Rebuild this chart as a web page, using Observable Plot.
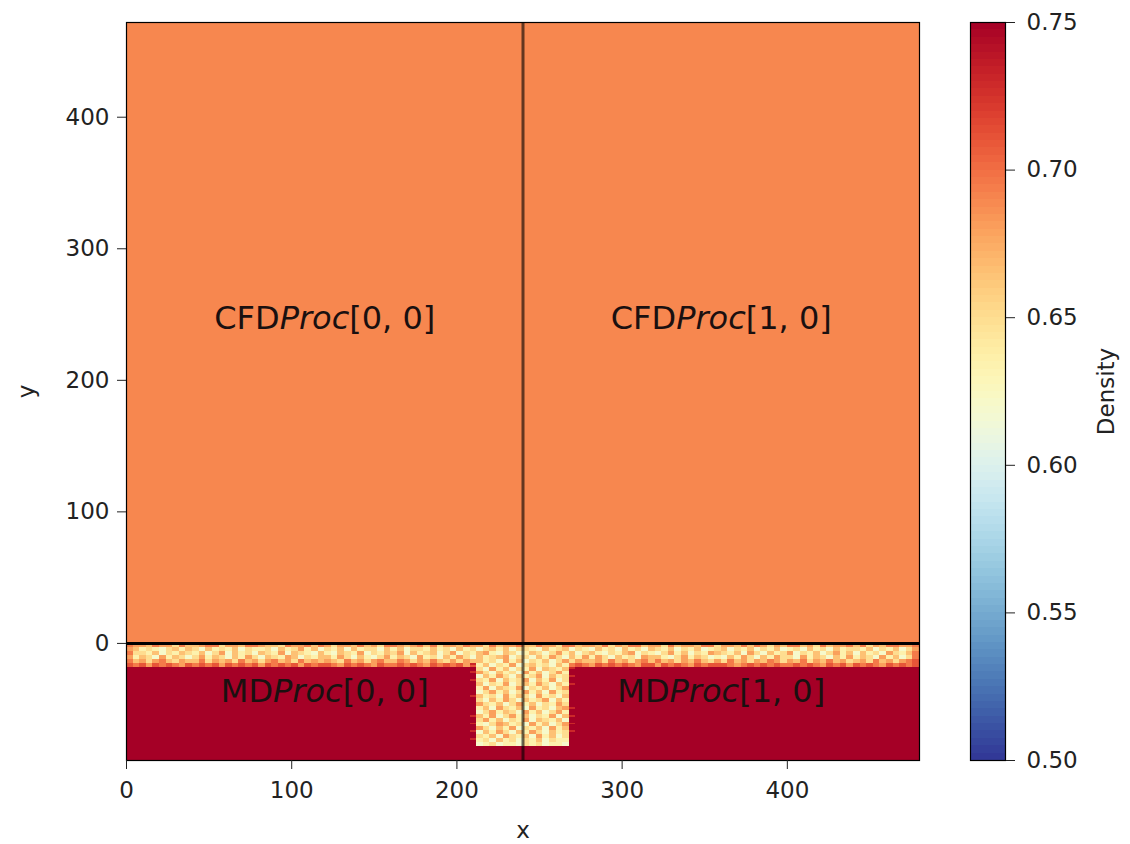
<!DOCTYPE html>
<html>
<head>
<meta charset="utf-8">
<script src="https://cdn.jsdelivr.net/npm/d3@7"></script>
<script src="https://cdn.jsdelivr.net/npm/@observablehq/plot@0.6"></script>
<style>
  html, body { margin: 0; padding: 0; background: white; }
  #chart { position: relative; width: 1130px; height: 844px; overflow: hidden; }
  #chart svg { position: absolute; top: 0; }
  .ital { font-style: italic; }
</style>
</head>
<body>
<div id="chart"></div>
<script>
// ---------- data ----------
const xTicks = [0, 100, 200, 300, 400];
const yTicks = [0, 100, 200, 300, 400];
const cbTicks = [0.50, 0.55, 0.60, 0.65, 0.70, 0.75];

// Uniform regions (CFD domain and MD bulk)
const regionName    = ["CFD", "MD"];
const regionX1      = [0, 0];
const regionX2      = [480, 480];
const regionY1      = [0, -89];
const regionY2      = [472, 0];
const regionDensity = [0.69, 0.76];

// density level codes used in the noisy MD interface band / channel
const levelDensity = [0.62, 0.635, 0.65, 0.665, 0.68, 0.695, 0.71, 0.73, 0.76];

// MD interface band, top row first (each row: 120 cells across 0..480)
const bandRows = [
  "544354425334552443554332544535424435342554345352443544253445335442553443524355344253443552443535424355342534453524355445",
  "431210231320312130211203124130213031220313022131203120231302210312302103120312032130213012302130213012031203122130213024",
  "522130213213024031203214032103103214021324031230240213410320132024130231021340210241302143213042031240213024130312042135",
  "413204132024132031420321430213314203102413204120314203123402203142031414203120433102413201031420314220413203141320413025",
  "534245324335243425342453425343432534245335424353242435342534425343524334253424535342435324253424354243524353423425342456",
  "656465654656564656564656564656654656546556565465656465656546565465656546565654664656546566654565656556565465646565465656"
];

// MD channel below the band (x 212..268), top row first
const channelRows = [
  "31204130213024",
  "13021402312031",
  "20413021403213",
  "42031204130241",
  "03142031240312",
  "21403124031402",
  "30214023142031",
  "14032140213024",
  "02413024130412",
  "31204132041203",
  "20314203124031",
  "42130241302142",
  "13042130412034",
  "02413204130241",
  "31402413021403",
  "24130214032130",
  "10243120413024",
  "42031402130413",
  "03142031420312",
  "21304213041302",
  "12031202130211",
  "01201102120110"
];
// thin pinkish dashes on each side of the channel (8 = none)
const channelLeftEdge  = "8787878887888878787878";
const channelRightEdge = "8878787888887878787888";

// text annotations
const annotText = ["CFDProc[0, 0]", "CFDProc[1, 0]", "MDProc[0, 0]", "MDProc[1, 0]"];
const annotX    = [120, 360, 120, 360];
const annotY    = [247, 247, -37, -37];

// processor boundaries
const procBoundaryX = [240];
const interfaceY    = [0];

// ---------- build tables ----------
const regions = regionName.map((n, i) => ({
  name: n, x1: regionX1[i], x2: regionX2[i], y1: regionY1[i], y2: regionY2[i], density: regionDensity[i]
}));

const cellW = 4, cellH = 3;
const cells = [];
bandRows.forEach((row, r) => {
  [...row].forEach((c, i) => {
    cells.push({x1: i * cellW, x2: (i + 1) * cellW, y1: -(r + 1) * cellH, y2: -r * cellH, density: levelDensity[+c]});
  });
});
const chX0 = 212, chTop = -12;
channelRows.forEach((row, r) => {
  [...row].forEach((c, i) => {
    cells.push({x1: chX0 + i * cellW, x2: chX0 + (i + 1) * cellW,
                y1: chTop - (r + 1) * cellH, y2: chTop - r * cellH, density: levelDensity[+c]});
  });
  const l = +channelLeftEdge[r], rr = +channelRightEdge[r];
  if (l !== 8) cells.push({x1: chX0 - 4, x2: chX0, y1: chTop - (r + 1) * cellH + 1, y2: chTop - r * cellH - 0.5, density: levelDensity[l]});
  if (rr !== 8) cells.push({x1: chX0 + row.length * cellW, x2: chX0 + row.length * cellW + 4, y1: chTop - (r + 1) * cellH + 1, y2: chTop - r * cellH - 0.5, density: levelDensity[rr]});
});

const annots = annotText.map((t, i) => ({text: t, x: annotX[i], y: annotY[i]}));

const colorOpts = {type: "linear", scheme: "RdYlBu", reverse: true, domain: [0.5, 0.75], clamp: true};
const font = "DejaVu Sans";

// ---------- main plot ----------
const main = Plot.plot({
  width: 940, height: 844,
  marginLeft: 126, marginRight: 21, marginTop: 22, marginBottom: 84,
  style: {fontFamily: font, fontSize: "23px", color: "#222", background: "transparent"},
  x: {domain: [0, 480]},
  y: {domain: [-89, 472]},
  color: colorOpts,
  marks: [
    Plot.rect(regions, {x1: "x1", x2: "x2", y1: "y1", y2: "y2", fill: "density", shapeRendering: "crispEdges"}),
    Plot.rect(cells, {x1: "x1", x2: "x2", y1: "y1", y2: "y2", fill: "density", shapeRendering: "crispEdges"}),
    Plot.ruleY(interfaceY, {stroke: "black", strokeWidth: 3}),
    Plot.ruleX(procBoundaryX, {stroke: "black", strokeOpacity: 0.6, strokeWidth: 3}),
    Plot.frame({stroke: "black", strokeWidth: 1.2}),
    Plot.text(annots, {x: "x", y: "y", text: "text", fontSize: 32, fill: "#1a1010", ariaLabel: "annot"}),
    Plot.axisX(xTicks, {tickSize: 9, tickPadding: 12, label: "x", labelAnchor: "center", labelOffset: 77, labelArrow: "none", fontSize: 23}),
    Plot.axisY(yTicks, {tickSize: 9, tickPadding: 8, label: "y", labelAnchor: "center", labelOffset: 109, labelArrow: "none", fontSize: 23})
  ]
});

// italic "Proc" like matplotlib mathtext
const ns = "http://www.w3.org/2000/svg";
main.querySelectorAll("text").forEach(t => {
  const s = t.textContent;
  const m = s.match(/^(CFD|MD)(Proc)(.*)$/);
  if (!m) return;
  while (t.firstChild) t.removeChild(t.firstChild);
  const a = document.createElementNS(ns, "tspan"); a.textContent = m[1];
  const b = document.createElementNS(ns, "tspan"); b.textContent = m[2];
  b.setAttribute("font-style", "italic"); b.setAttribute("class", "ital"); b.style.fontStyle = "italic";
  const c = document.createElementNS(ns, "tspan"); c.textContent = m[3];
  t.append(a, b, c);
});

// ---------- colorbar ----------
const step = 0.0025;
const cbSteps = d3.range(0.5, 0.75 - 1e-9, step);
const cbar = Plot.plot({
  width: 190, height: 844,
  marginLeft: 30, marginRight: 125, marginTop: 22, marginBottom: 84,
  style: {fontFamily: font, fontSize: "23px", color: "#222", background: "transparent"},
  x: {domain: [0, 1], axis: null},
  y: {domain: [0.5, 0.75], axis: null},
  color: colorOpts,
  marks: [
    Plot.rect(cbSteps, {x1: 0, x2: 1, y1: d => d, y2: d => d + step, fill: d => d + step / 2, shapeRendering: "crispEdges"}),
    Plot.frame({stroke: "black", strokeWidth: 1.2}),
    Plot.axisY(cbTicks, {anchor: "right", tickSize: 9, tickPadding: 12, tickFormat: d3.format(".2f"),
      label: "Density", labelAnchor: "center", labelOffset: 108, labelArrow: "none", fontSize: 23})
  ]
});

main.style.left = "0px";
cbar.style.left = "940px";
document.getElementById("chart").append(main, cbar);
</script>
</body>
</html>
